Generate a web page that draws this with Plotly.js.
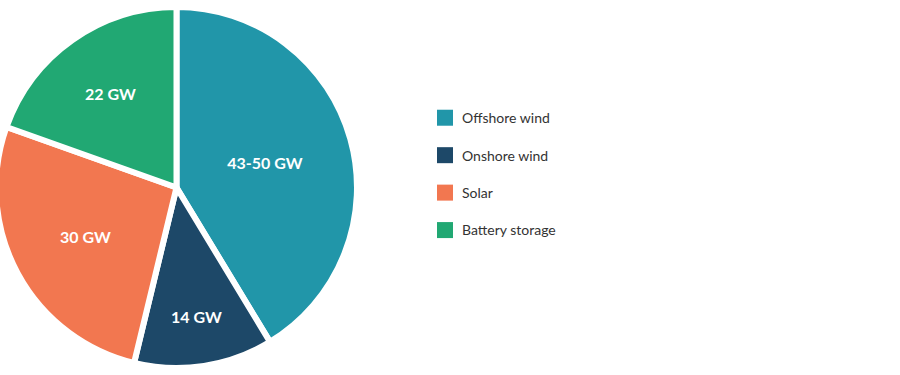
<!DOCTYPE html>
<html>
<head>
<meta charset="utf-8">
<script src="https://cdn.plot.ly/plotly-3.0.1.min.js"></script>
<style>
  html, body { margin: 0; padding: 0; background: #fff; overflow: hidden; }
  #chart { width: 904px; height: 375px; margin-left: -4px; }
  .legend .legendpie { d: path("M8,8H-8V-8H8Z"); stroke-width: 0 !important; }
  .legend .legendtext { transform: translate(-3px, -5px); }
</style>
</head>
<body>
<div id="chart"></div>
<script>
const categories = ['Offshore wind', 'Onshore wind', 'Solar', 'Battery storage'];
const capacityGW = [46.5, 14, 30, 22];
const sliceLabels = ['43-50 GW', '14 GW', '30 GW', '22 GW'];
const sliceColors = ['#2196a9', '#1d4868', '#f27750', '#21a873'];

const trace = {
  type: 'pie',
  labels: categories.map(c => '<span style="font-size:14px">' + c + '</span>'),
  values: capacityGW,
  text: sliceLabels,
  textinfo: 'text',
  textposition: 'inside',
  insidetextorientation: 'horizontal',
  textfont: { family: 'Lato, "Open Sans", sans-serif', size: 16, color: '#ffffff', weight: 'bold' },
  sort: false,
  direction: 'clockwise',
  rotation: 0,
  marker: { colors: sliceColors, line: { color: '#ffffff', width: 6 } },
  domain: { x: [0, 361 / 904], y: [0.0187, 0.9813] },
  hoverinfo: 'label+value'
};

const layout = {
  width: 904,
  height: 375,
  margin: { l: 0, r: 0, t: 0, b: 0 },
  paper_bgcolor: '#ffffff',
  plot_bgcolor: '#ffffff',
  showlegend: true,
  legend: {
    x: 429 / 904,
    xanchor: 'left',
    y: 0.536,
    yanchor: 'middle',
    font: { family: 'Lato, "Open Sans", sans-serif', size: 26.5, color: '#333333' },
    bgcolor: 'rgba(0,0,0,0)'
  }
};

Plotly.newPlot('chart', [trace], layout, { displayModeBar: false, staticPlot: true });
</script>
</body>
</html>
